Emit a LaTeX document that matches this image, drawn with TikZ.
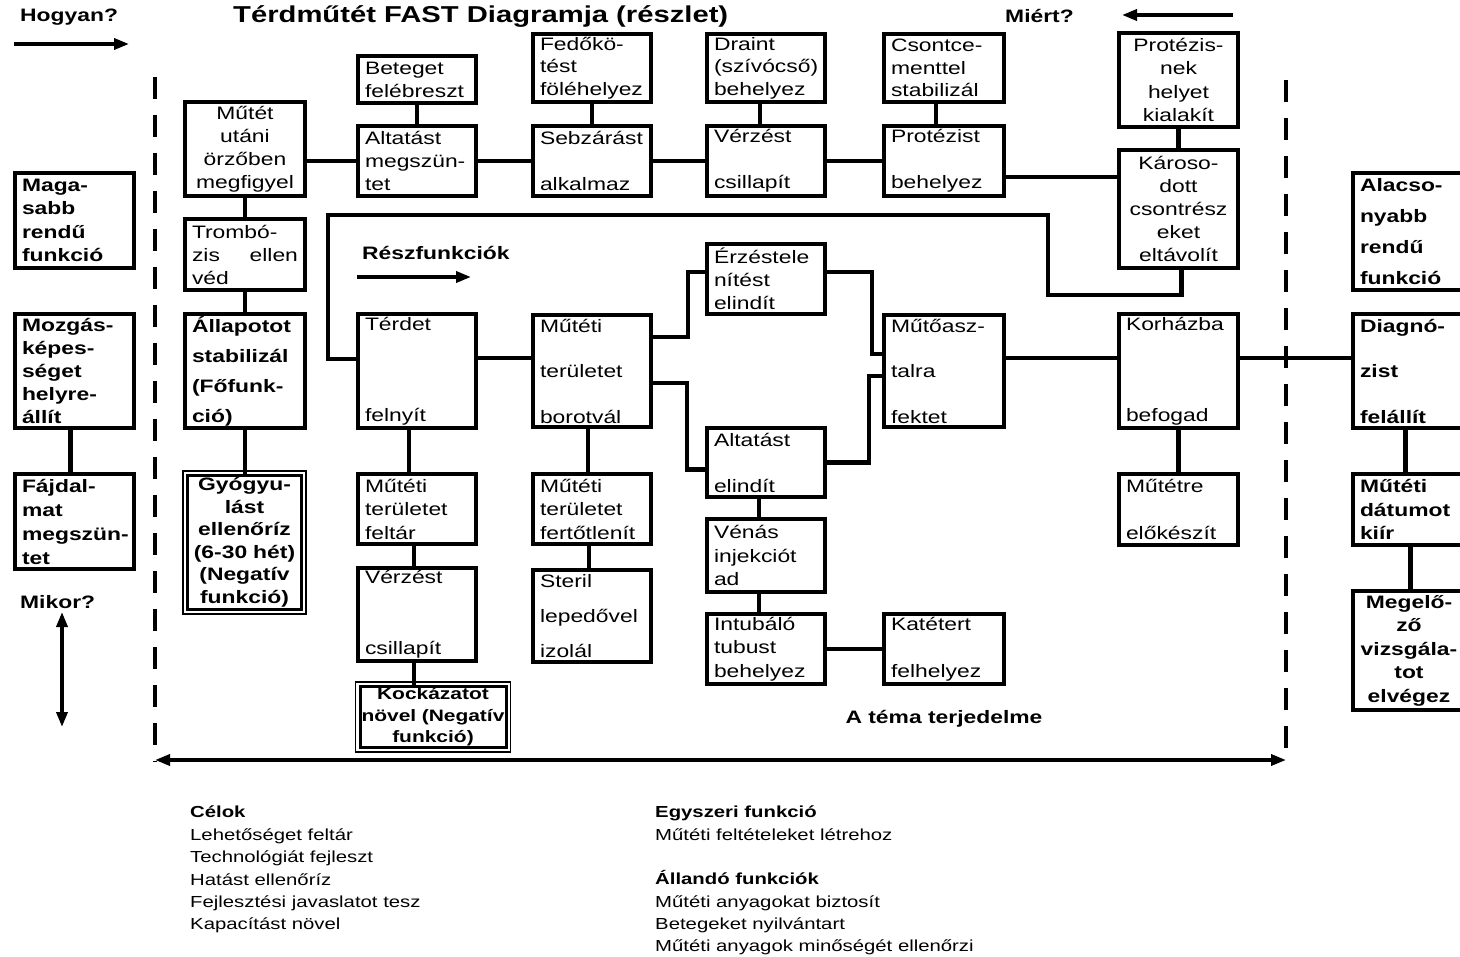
\documentclass[tikz,border=0pt]{standalone}
\usepackage{fontspec}
\setmainfont{Liberation Sans}[FakeStretch=1.27]
\usetikzlibrary{arrows.meta}
\begin{document}
\begin{tikzpicture}[x=1pt, y=-1pt, >={Triangle[length=15pt, width=11pt]},
		box/.style={draw, line width=4pt, anchor=north west, inner xsep=7pt, inner ysep=0pt, align=left, font=\fontsize{18}{23}\selectfont},
		negbox/.style={box, line width=3pt, outer sep=0pt, align=center},
		bx/.code 2 args={\pgfmathsetmacro\bxw{#1-14}\tikzset{minimum width=#1pt, minimum height=#2pt, text width=\bxw pt}},
		ls/.style={font=\fontsize{18}{#1}\selectfont},
		bls/.style={font=\fontsize{18}{#1}\selectfont\bfseries},
		conn/.style={line width=4.5pt},
		arr/.style={line width=3.5pt},
		scopeline/.style={line width=4pt, dash pattern=on 22pt off 16pt},
		lbl/.style={font=\fontsize{18}{22}\selectfont\bfseries, inner sep=0pt},
		legend/.style={anchor=north west, inner sep=0pt, align=left, font=\fontsize{16}{22.4}\selectfont}]
	\useasboundingbox (0,0) rectangle (1460,957);
	\clip (0,0) rectangle (1460,957);
	
	\node[lbl, anchor=west] (hogyan) at (20,17) {Hogyan?};
	\node[lbl, anchor=west, font=\fontsize{23}{26}\selectfont\bfseries] (cim) at (233,17) {Térdműtét FAST Diagramja (részlet)};
	\node[lbl, anchor=west] (miert) at (1005,16) {Miért?};
	\node[lbl, anchor=west] (reszf) at (362,253) {Részfunkciók};
	\node[lbl, anchor=west] (mikor) at (20,602) {Mikor?};
	\node[lbl] (tema) at (944,719) {A téma terjedelme};
	
	\coordinate (hogy1) at (14,44);
	\coordinate (hogy2) at (129,44);
	\coordinate (miert1) at (1233,15);
	\coordinate (miert2) at (1122,15);
	\coordinate (reszf1) at (357,277);
	\coordinate (reszf2) at (471,277);
	\coordinate (mikor1) at (62,612);
	\coordinate (mikor2) at (62,727);
	\coordinate (hatar1) at (155,760);
	\coordinate (hatar2) at (1286,760);
	\draw[arr, ->] (hogy1) -- (hogy2);
	\draw[arr, ->] (miert1) -- (miert2);
	\draw[arr, ->] (reszf1) -- (reszf2);
	\draw[arr, <->] (mikor1) -- (mikor2);
	\draw[arr, <->] (hatar1) -- (hatar2);
	\draw[scopeline] (155,77) -- (155,762);
	\draw[scopeline] (1286,80) -- (1286,754);
	
	\node[box, bx={118}{47}] (beteget) at (356,54) {Beteget\\felébreszt};
	\node[box, bx={118}{70}] (altmeg) at (356,124) {Altatást\\megszün-\\tet};
	\node[box, bx={118}{68}, ls=22.5] (fedo) at (531,32) {Fedőkö-\\tést\\föléhelyez};
	\node[box, bx={118}{70}, ls=46] (sebzar) at (531,124) {Sebzárást\\alkalmaz};
	\node[box, bx={118}{68}, ls=22.5] (drain) at (705,32) {Draint\\(szívócső)\\behelyez};
	\node[box, bx={118}{70}, ls=46] (verzfent) at (705,124) {Vérzést\\csillapít};
	\node[box, bx={120}{68}, ls=22.5] (csont) at (882,32) {Csontce-\\menttel\\stabilizál};
	\node[box, bx={120}{70}, ls=46] (protbe) at (882,124) {Protézist\\behelyez};
	\node[box, bx={119}{94}, align=center, ls=23.3] (protnek) at (1117,31) {Protézis-\\nek\\helyet\\kialakít};
	\node[box, bx={119}{118}, align=center] (karos) at (1117,148) {Károso-\\dott\\csontrész\\eket\\eltávolít};
	
	\node[box, bx={120}{94}, align=center] (megfigy) at (183,100) {Műtét\\utáni\\örzőben\\megfigyel};
	\node[box, bx={120}{71}] (trombo) at (183,217) {Trombó-\\zis\hfill ellen\\véd};
	\node[box, bx={120}{114}, bls=30] (allap) at (183,312) {Állapotot\\stabilizál\\(Főfunk-\\ció)};
	\node[negbox, bx={114}{134}, bls=22.5, inner xsep=4pt, text width=106pt] (gyogy) at (187.5,475.5) {Gyógyu-\\lást\\ellenőríz\\(6-30 hét)\\(Negatív\\funkció)};
	
	\node[box, bx={119}{95}, bls=23.3] (magas) at (13,171) {Maga-\\sabb\\rendű\\funkció};
	\node[box, bx={119}{114}, bls=22.8] (mozgas) at (13,312) {Mozgás-\\képes-\\séget\\helyre-\\állít};
	\node[box, bx={119}{95}, bls=24] (fajd) at (13,472) {Fájdal-\\mat\\\mbox{megszün-}\\tet};
	
	\node[box, bx={118}{114}, ls=91] (terdet) at (356,312) {Térdet\\felnyít};
	\node[box, bx={118}{70}, ls=23.5] (feltar) at (356,472) {Műtéti\\területet\\feltár};
	\node[box, bx={118}{93}, ls=71] (verzlent) at (356,566) {Vérzést\\csillapít};
	\node[negbox, bx={146}{61}, inner xsep=0pt, text width=146pt, font=\fontsize{16.5}{21.5}\selectfont\bfseries] (kock) at (360,686.5) {Kockázatot\\\mbox{növel (Negatív}\\funkció)};
	\foreach \n in {gyogy,kock}
		\draw[line width=1.2pt] ([xshift=-4.5pt, yshift=4.5pt]\n.north west) rectangle ([xshift=4.5pt, yshift=-4.5pt]\n.south east);
	
	\node[box, bx={118}{112}, ls=45.5] (borot) at (531,313) {Műtéti\\területet\\borotvál};
	\node[box, bx={118}{70}, ls=23.5] (fertot) at (531,472) {Műtéti\\területet\\fertőtlenít};
	\node[box, bx={118}{92}, ls=35] (steril) at (531,568) {Steril\\lepedővel\\izolál};
	
	\node[box, bx={118}{70}] (erzes) at (705,242) {Érzéstele\\nítést\\elindít};
	\node[box, bx={118}{69}, ls=46] (altind) at (705,426) {Altatást\\elindít};
	\node[box, bx={118}{73}, ls=23.5] (venas) at (705,517) {Vénás\\injekciót\\ad};
	\node[box, bx={118}{70}, ls=23.5] (intub) at (705,612) {Intubáló\\tubust\\behelyez};
	\node[box, bx={120}{70}, ls=47] (katet) at (882,612) {Katétert\\felhelyez};
	\node[box, bx={120}{112}, ls=45.5] (mutoasz) at (882,313) {Műtőasz-\\talra\\fektet};
	
	\node[box, bx={119}{114}, ls=91] (korhaz) at (1117,312) {Korházba\\befogad};
	\node[box, bx={119}{71}, ls=47] (mutetre) at (1117,472) {Műtétre\\előkészít};
	
	\node[box, bx={115}{117}, bls=31] (alacs) at (1351,171) {Alacso-\\nyabb\\rendű\\funkció};
	\node[box, bx={115}{114}, bls=45.5] (diagn) at (1351,312) {Diagnó-\\zist\\felállít};
	\node[box, bx={115}{71}, bls=23.5] (datum) at (1351,472) {Műtéti\\dátumot\\kiír};
	\node[box, bx={112}{119}, bls=23.5, align=center] (megelo) at (1351,589) {Megelő-\\ző\\vizsgála-\\tot\\elvégez};
	
	\draw[conn] (megfigy.east |- altmeg.west) -- (altmeg.west);
	\draw[conn] (beteget.south) -- (altmeg.north);
	\draw[conn] (altmeg) -- (sebzar);
	\draw[conn] (fedo) -- (sebzar);
	\draw[conn] (sebzar) -- (verzfent);
	\draw[conn] ([xshift=-6pt]drain.south) -- ([xshift=-6pt]verzfent.north);
	\draw[conn] (verzfent) -- (protbe);
	\draw[conn] ([xshift=-8pt]csont.south) -- ([xshift=-8pt]protbe.north);
	\draw[conn] ([yshift=-16pt]protbe.east) -- ([yshift=-16pt]protbe.east -| karos.west);
	\draw[conn] (protnek) -- (karos);
	\coordinate (hurok1) at (1048,295);
	\coordinate (hurok2) at (328,215);
	\draw[conn] ([xshift=3pt]karos.south) |- (hurok1) |- (hurok2) |- ([yshift=12pt]terdet.west);
	
	\draw[conn] (megfigy) -- (trombo);
	\draw[conn] (trombo) -- (allap);
	\draw[conn] (allap.south) -- (allap.south |- gyogy.north);
	\draw[conn] ([xshift=-4pt]mozgas.south) -- ([xshift=-4pt]fajd.north);
	
	\draw[conn] ([yshift=13pt]terdet.east) -- ([yshift=13pt]terdet.east -| borot.west);
	\draw[conn] ([xshift=-8pt]terdet.south) -- ([xshift=-8pt]feltar.north);
	\draw[conn] ([xshift=-3pt]feltar.south) -- ([xshift=-3pt]verzlent.north);
	\draw[conn] ([xshift=-3pt]verzlent.south) -- ([xshift=-3pt]verzlent.south |- kock.north);
	
	\draw[conn] ([yshift=34pt]borot.east) -- ++(35,0) |- ([yshift=7pt]erzes.west);
	\draw[conn] ([yshift=-12pt]borot.east) -- ++(34,0) |- ([yshift=-7pt]altind.west);
	\draw[conn] ([yshift=7pt]erzes.east) -- ++(45,0) |- ([yshift=17pt]mutoasz.west);
	\draw[conn] (altind.east) -- ++(42,0) |- ([yshift=-5pt]mutoasz.west);
	\draw[conn] ([xshift=-4pt]borot.south) -- ([xshift=-4pt]fertot.north);
	\draw[conn] ([xshift=-3pt]fertot.south) -- ([xshift=-3pt]steril.north);
	\draw[conn] ([xshift=-7pt]altind.south) -- ([xshift=-7pt]venas.north);
	\draw[conn] ([xshift=-7pt]venas.south) -- ([xshift=-7pt]intub.north);
	\draw[conn] (intub) -- (katet);
	
	\draw[conn] ([yshift=13pt]mutoasz.east) -- ([yshift=13pt]mutoasz.east -| korhaz.west);
	\draw[conn] ([yshift=13pt]korhaz.east) -- ([yshift=13pt]korhaz.east -| diagn.west);
	\draw[conn] (korhaz) -- (mutetre);
	\draw[conn] ([xshift=-5pt]diagn.south) -- ([xshift=-5pt]datum.north);
	\draw[conn] (datum.south) -- (datum.south |- megelo.north);
	
	\node[legend] (celok) at (190,806) {\textbf{Célok}\\Lehetőséget feltár\\Technológiát fejleszt\\Hatást ellenőríz\\Fejlesztési javaslatot tesz\\Kapacítást növel};
	\node[legend] (funkciok) at (655,806) {\textbf{Egyszeri funkció}\\Műtéti feltételeket létrehoz\\[22pt]\textbf{Állandó funkciók}\\Műtéti anyagokat biztosít\\Betegeket nyilvántart\\Műtéti anyagok minőségét ellenőrzi};
\end{tikzpicture}
\end{document}
